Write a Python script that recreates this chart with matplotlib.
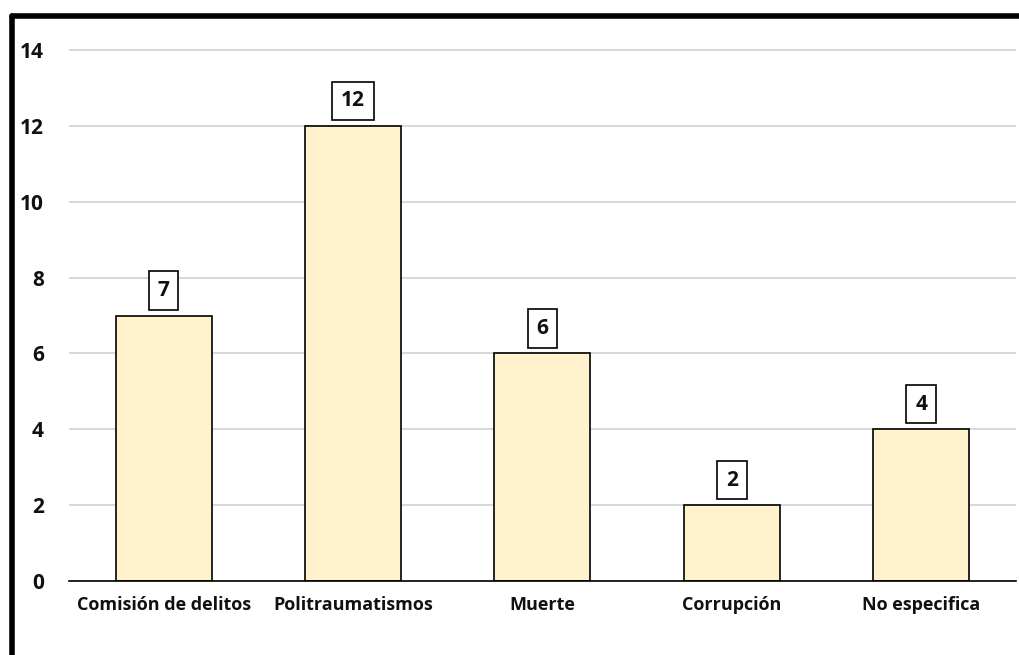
import matplotlib.pyplot as plt
from matplotlib.lines import Line2D

# data
categories = ['Comisión de delitos', 'Politraumatismos', 'Muerte', 'Corrupción', 'No especifica']
counts = [7, 12, 6, 2, 4]
yticks = [0, 2, 4, 6, 8, 10, 12, 14]

plt.rcParams['font.family'] = ['Open Sans', 'DejaVu Sans']

fig = plt.figure(figsize=(10.19, 6.55), dpi=100)
ax = fig.add_axes([0.0677, 0.113, 0.9293, 0.828])

x = range(len(categories))
bars = ax.bar(x, counts, width=0.507, color='#FFF2CC', edgecolor='black', linewidth=1.2, zorder=3)

# boxed value labels above each bar
for b, v in zip(bars, counts):
    ax.annotate(str(v), (b.get_x() + b.get_width() / 2, v), xytext=(0, 10.5), textcoords='offset points',
                ha='center', va='bottom', fontsize=15, fontweight='bold', color='#111111',
                bbox=dict(boxstyle='square,pad=0.42', fc='white', ec='black', lw=1.2), zorder=4)

ax.set_xlim(-0.5, len(categories) - 0.5)
ax.set_ylim(0, 14.3)
ax.set_yticks(yticks)
ax.set_xticks(list(x))
ax.set_xticklabels(categories, fontsize=13, fontweight='bold', color='#111111')
for lab in ax.get_yticklabels():
    lab.set_fontsize(15)
    lab.set_fontweight('bold')
    lab.set_color('#111111')

ax.yaxis.grid(True, color='#d9d9d9', linewidth=1.5, zorder=0)
ax.set_axisbelow(True)
ax.tick_params(axis='y', length=0, pad=18)
ax.tick_params(axis='x', length=0, pad=11)
for s in ['top', 'right', 'left']:
    ax.spines[s].set_visible(False)
ax.spines['bottom'].set_linewidth(1.2)
ax.spines['bottom'].set_zorder(5)

# thick black frame on top and left (image is cropped at right and bottom)
fig.add_artist(Line2D([0.0118, 1.0], [0.9763, 0.9763], color='black', lw=4, solid_capstyle='round', transform=fig.transFigure))
fig.add_artist(Line2D([0.0118, 0.0118], [0.0, 0.9763], color='black', lw=4, solid_capstyle='round', transform=fig.transFigure))

fig.savefig('out.png', dpi=100)
